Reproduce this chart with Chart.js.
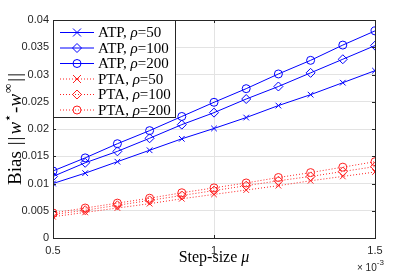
<!DOCTYPE html>
<html>
<head>
<meta charset="utf-8">
<script src="https://cdn.jsdelivr.net/npm/chart.js@4/dist/chart.umd.min.js"></script>
<style>
  html, body { margin: 0; padding: 0; background: #fff; }
  #grafico { display: block; }
</style>
</head>
<body>
<canvas id="grafico" width="415" height="276"></canvas>
<script>
// step size mu (x 10^-3)
const pasos = [0.5, 0.6, 0.7, 0.8, 0.9, 1.0, 1.1, 1.2, 1.3, 1.4, 1.5];

const atp50  = [0.0100, 0.0119, 0.0140, 0.0161, 0.0182, 0.0201, 0.0221, 0.0243, 0.0263, 0.0285, 0.0307];
const atp100 = [0.0113, 0.0138, 0.0159, 0.0183, 0.0208, 0.0230, 0.0255, 0.0278, 0.0303, 0.0328, 0.0353];
const atp200 = [0.0123, 0.0147, 0.0173, 0.0197, 0.0223, 0.0249, 0.0274, 0.0301, 0.0326, 0.0354, 0.0380];
const pta50  = [0.0039, 0.0047, 0.0055, 0.0063, 0.0072, 0.0080, 0.0088, 0.0096, 0.0105, 0.0113, 0.0121];
const pta100 = [0.0043, 0.0051, 0.0060, 0.0069, 0.0078, 0.0087, 0.0096, 0.0105, 0.0113, 0.0122, 0.0131];
const pta200 = [0.0046, 0.0055, 0.0064, 0.0073, 0.0083, 0.0092, 0.0101, 0.0111, 0.0120, 0.0130, 0.0140];

const etiquetasX = ['0.5', '1', '1.5'];
const etiquetasSerie = [['ATP', '50'], ['ATP', '100'], ['ATP', '200'], ['PTA', '50'], ['PTA', '100'], ['PTA', '200']];

const AZUL = '#0000ff';
const ROJO = '#ff2020';
const EJE = '#262626';
const SERIF = '"Liberation Serif", "Times New Roman", serif';
const SANS = '"Liberation Sans", Arial, sans-serif';

function puntos(valores) {
    return pasos.map((p, i) => ({ x: p, y: valores[i] }));
}

function serie(valores, color, estilo, punteada, radio) {
    return {
        data: puntos(valores),
        borderColor: color,
        borderWidth: 1,
        borderDash: punteada ? [1, 2] : [],
        pointStyle: estilo,
        pointRadius: radio,
        pointBorderColor: color,
        pointBackgroundColor: 'rgba(0,0,0,0)',
        pointBorderWidth: 1,
        tension: 0
    };
}

// dibuja marcador propio (x, diamante, circulo)
function marcador(ctx, estilo, radio, x, y) {
    ctx.beginPath();
    if (estilo === 'crossRot') {
        ctx.moveTo(x - radio, y - radio); ctx.lineTo(x + radio, y + radio);
        ctx.moveTo(x + radio, y - radio); ctx.lineTo(x - radio, y + radio);
    } else if (estilo === 'rectRot') {
        ctx.moveTo(x, y - radio); ctx.lineTo(x + radio, y);
        ctx.lineTo(x, y + radio); ctx.lineTo(x - radio, y); ctx.closePath();
    } else {
        ctx.arc(x, y, radio, 0, Math.PI * 2);
    }
    ctx.stroke();
}

// escribe trozos de texto con estilos distintos
function trozos(ctx, partes) {
    let ancho = 0;
    partes.forEach(p => { ctx.font = p.f; ancho += ctx.measureText(p.t).width + (p.dx || 0); });
    return ancho;
}
function escribir(ctx, partes, x, y) {
    let cx = x;
    partes.forEach(p => {
        ctx.font = p.f;
        ctx.fillText(p.t, cx, y + (p.dy || 0));
        cx += ctx.measureText(p.t).width + (p.dx || 0);
    });
}

const marco = {
    id: 'marco',
    afterDraw(chart) {
        const ctx = chart.ctx;
        const a = chart.chartArea;
        const sx = chart.scales.x, sy = chart.scales.y;
        ctx.save();

        // caja y marcas hacia dentro
        ctx.strokeStyle = EJE;
        ctx.lineWidth = 1;
        ctx.setLineDash([]);
        ctx.beginPath();
        sy.ticks.forEach(t => {
            const py = Math.round(sy.getPixelForValue(t.value)) + 0.5;
            ctx.moveTo(a.left, py); ctx.lineTo(a.left + 3, py);
            ctx.moveTo(a.right, py); ctx.lineTo(a.right - 3, py);
        });
        sx.ticks.forEach(t => {
            const px = Math.round(sx.getPixelForValue(t.value)) + 0.5;
            ctx.moveTo(px, a.bottom); ctx.lineTo(px, a.bottom - 3);
            ctx.moveTo(px, a.top); ctx.lineTo(px, a.top + 3);
        });
        ctx.stroke();
        ctx.strokeRect(Math.round(a.left) + 0.5, Math.round(a.top) + 0.5,
            Math.round(a.right - a.left), Math.round(a.bottom - a.top));

        // leyenda
        const lx = Math.round(a.left) + 0.5, ly = Math.round(a.top) + 0.5;
        ctx.fillStyle = '#ffffff';
        ctx.fillRect(lx, ly, 122, 97);
        ctx.strokeStyle = EJE;
        ctx.strokeRect(lx, ly, 122, 97);
        chart.data.datasets.forEach((ds, i) => {
            const fy = 32.5 + i * 15.5;
            ctx.strokeStyle = ds.borderColor;
            ctx.lineWidth = 1;
            ctx.setLineDash(ds.borderDash);
            ctx.beginPath();
            ctx.moveTo(60, fy); ctx.lineTo(94, fy);
            ctx.stroke();
            ctx.setLineDash([]);
            marcador(ctx, ds.pointStyle, ds.pointRadius, 77, fy);
            ctx.fillStyle = '#000';
            ctx.textBaseline = 'middle';
            ctx.textAlign = 'left';
            const [nombre, rho] = etiquetasSerie[i];
            escribir(ctx, [
                { t: nombre + ', ', f: '15px ' + SERIF },
                { t: 'ρ', f: 'italic 15px ' + SERIF },
                { t: '=' + rho, f: '15px ' + SERIF }
            ], 98, fy + 1);
        });

        // titulo eje x
        ctx.fillStyle = '#000';
        ctx.textBaseline = 'middle';
        const partesX = [
            { t: 'Step-size ', f: '16px ' + SERIF },
            { t: 'μ', f: 'italic 16px ' + SERIF }
        ];
        const wx = trozos(ctx, partesX);
        escribir(ctx, partesX, (a.left + a.right) / 2 - wx / 2, 258);

        // multiplicador
        ctx.fillStyle = EJE;
        escribir(ctx, [
            { t: '× 10', f: '10px ' + SANS },
            { t: '-3', f: '8px ' + SANS, dy: -5 }
        ], 357, 268);

        // titulo eje y
        ctx.save();
        ctx.translate(16, (a.top + a.bottom) / 2);
        ctx.rotate(-Math.PI / 2);
        ctx.fillStyle = '#000';
        const partesY = [
            { t: 'Bias', f: '19px ' + SERIF, dx: 6 },
            { t: '|', f: '19px ' + SERIF, dx: 1 },
            { t: '|', f: '19px ' + SERIF, dx: 2 },
            { t: 'w', f: 'italic 19px ' + SERIF },
            { t: '⋆', f: '13px ' + SERIF, dy: -7, dx: 1 },
            { t: '-', f: '19px ' + SERIF },
            { t: 'w', f: 'italic 19px ' + SERIF, dx: 1 },
            { t: '∞', f: '13px ' + SERIF, dy: -7, dx: 2 },
            { t: '|', f: '19px ' + SERIF, dx: 1 },
            { t: '|', f: '19px ' + SERIF }
        ];
        const wy = trozos(ctx, partesY);
        escribir(ctx, partesY, -wy / 2, 0);
        ctx.restore();

        ctx.restore();
    }
};

new Chart(document.getElementById('grafico'), {
    type: 'line',
    data: {
        datasets: [
            serie(atp50, AZUL, 'crossRot', false, 4),
            serie(atp100, AZUL, 'rectRot', false, 4.5),
            serie(atp200, AZUL, 'circle', false, 4),
            serie(pta50, ROJO, 'crossRot', true, 4),
            serie(pta100, ROJO, 'rectRot', true, 4.5),
            serie(pta200, ROJO, 'circle', true, 4)
        ]
    },
    options: {
        responsive: false,
        animation: false,
        devicePixelRatio: 1,
        layout: { padding: { left: 0, top: 20, right: 40, bottom: 0 } },
        plugins: { legend: { display: false }, tooltip: { enabled: false } },
        scales: {
            x: {
                type: 'linear',
                min: 0.5,
                max: 1.5,
                afterFit: s => { s.height = 38; },
                grid: { color: '#e3e3e3', drawTicks: false },
                border: { display: false },
                ticks: {
                    stepSize: 0.5,
                    padding: 6,
                    color: EJE,
                    font: { family: SANS, size: 11 },
                    maxRotation: 0,
                    callback: (v, i) => etiquetasX[i]
                }
            },
            y: {
                min: 0,
                max: 0.04,
                afterFit: s => { s.width = 53; },
                grid: { color: '#e3e3e3', drawTicks: false },
                border: { display: false },
                ticks: {
                    stepSize: 0.005,
                    padding: 4,
                    color: EJE,
                    font: { family: SANS, size: 11 },
                    callback: v => String(Number(v.toFixed(3)))
                }
            }
        }
    },
    plugins: [marco]
});
</script>
</body>
</html>
